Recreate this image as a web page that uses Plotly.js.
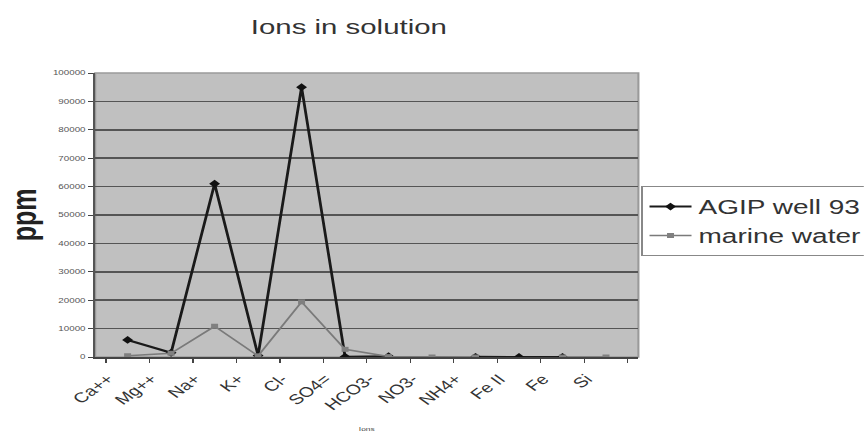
<!DOCTYPE html>
<html>
<head>
<meta charset="utf-8">
<script src="https://cdn.plot.ly/plotly-3.0.1.min.js"></script>
<style>
  html, body { margin: 0; padding: 0; background: #fff; overflow: hidden; }
  #wrap { width: 864px; height: 435px; overflow: hidden; }
  #chart { width: 617px; height: 435px; transform: scaleX(1.4); transform-origin: 0 0; }
</style>
</head>
<body>
<div id="wrap"><div id="chart"></div></div>
<script>
// Data (ppm)
const ions = ["Ca++", "Mg++", "Na+", "K+", "Cl-", "SO4=", "HCO3-", "NO3-", "NH4+", "Fe II", "Fe", "Si"];
const agipWell93 = [6000, 1500, 61000, 500, 95000, 100, 300, null, 50, 20, 20, null];
const marineWater = [400, 1300, 10800, 400, 19400, 2700, 140, 1, 1, null, 1, 3];
const seriesNames = ["AGIP well 93", "marine water"];
const yTicks = [0, 10000, 20000, 30000, 40000, 50000, 60000, 70000, 80000, 90000, 100000];

const traces = [
  {
    x: ions, y: agipWell93, name: seriesNames[0], type: "scatter", mode: "lines+markers",
    line: { color: "#1a1a1a", width: 2 },
    marker: { symbol: "diamond", size: 6, color: "#111" },
    connectgaps: false
  },
  {
    x: ions, y: marineWater, name: seriesNames[1], type: "scatter", mode: "lines+markers",
    line: { color: "#7a7a7a", width: 1.5 },
    marker: { symbol: "square", size: 5, color: "#808080" },
    connectgaps: false
  }
];

const layout = {
  width: 617, height: 435,
  margin: { l: 68, r: 161, t: 73, b: 78, autoexpand: false },
  paper_bgcolor: "#ffffff",
  plot_bgcolor: "#c0c0c0",
  font: { family: "Liberation Sans, Arial, sans-serif", color: "#333" },
  title: {
    text: "Ions in solution",
    font: { size: 21, color: "#333" },
    xref: "paper", x: 0.467, xanchor: "center",
    y: 0.938, yanchor: "middle"
  },
  shapes: [{
    type: "rect", xref: "paper", yref: "paper", x0: 0, x1: 1, y0: 0, y1: 1,
    line: { color: "#9a9a9a", width: 1.5 }, fillcolor: "rgba(0,0,0,0)", layer: "below"
  }],
  xaxis: {
    type: "category",
    title: { text: "Ions", font: { size: 6, color: "#444" }, standoff: 14 },
    tickangle: -45,
    tickfont: { size: 14, color: "#333" },
    ticklabelstandoff: 7,
    ticklabelshift: -14,
    ticks: "outside", tickson: "boundaries", ticklen: 4, tickcolor: "#444",
    showline: true, linecolor: "#444", linewidth: 1.5,
    showgrid: false, automargin: false, mirror: false
  },
  yaxis: {
    range: [0, 100000],
    tickvals: yTicks,
    tickformat: "d",
    tickfont: { size: 7, color: "#555" },
    ticks: "outside", ticklen: 4, tickcolor: "#444",
    title: { text: "ppm", font: { size: 25, color: "#222", weight: "bold" }, standoff: 4 },
    showline: true, linecolor: "#555", linewidth: 1.5,
    showgrid: true, gridcolor: "#555", gridwidth: 1.5,
    zeroline: false, automargin: false
  },
  showlegend: true,
  legend: {
    x: 1.005, xanchor: "left", y: 0.602, yanchor: "top",
    font: { size: 20, color: "#333" },
    bgcolor: "#ffffff", bordercolor: "#888", borderwidth: 1,
    tracegroupgap: 0, itemwidth: 30
  }
};

Plotly.newPlot("chart", traces, layout, { displayModeBar: false, staticPlot: true });
</script>
</body>
</html>
